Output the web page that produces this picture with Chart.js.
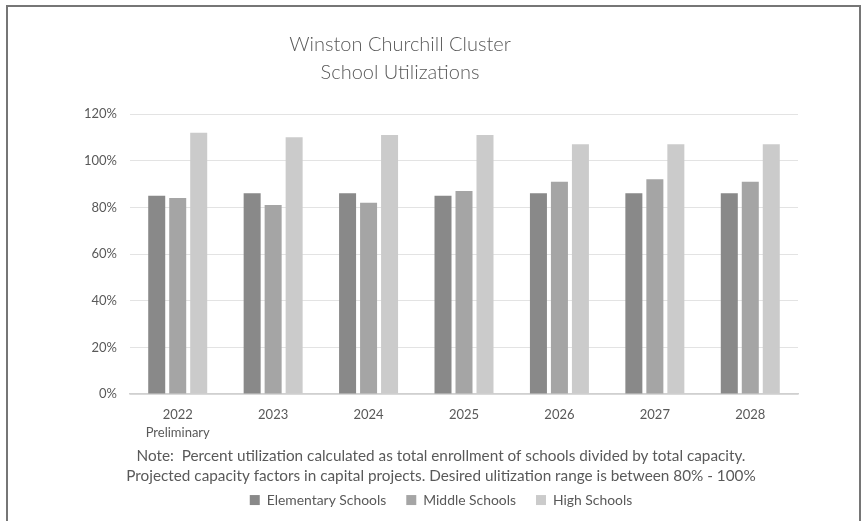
<!DOCTYPE html>
<html><head><meta charset="utf-8">
<script src="https://cdn.jsdelivr.net/npm/chart.js@4.4.0/dist/chart.umd.min.js"></script>
<style>
html,body{margin:0;padding:0;background:#fff;width:867px;height:521px;overflow:hidden;}
#frame{position:absolute;left:6px;top:5px;width:851px;height:600px;border:2px solid #767676;border-bottom:none;}
#wrap{position:absolute;left:0;top:0;width:867px;height:521px;}
</style></head><body>
<div id="frame"></div>
<div id="wrap"><canvas id="c" width="867" height="521"></canvas></div>
<script>
const categories = [['2022','Preliminary'],'2023','2024','2025','2026','2027','2028'];
const elementary = [85,86,86,85,86,86,86];
const middle = [84,81,82,87,91,92,91];
const high = [112,110,111,111,107,107,107];
const yTickLabels = ['0%','20%','40%','60%','80%','100%','120%'];
const seriesNames = ['Elementary Schools','Middle Schools','High Schools'];
const titleLines = ['Winston Churchill Cluster','School Utilizations'];
const noteLines = ['Note:  Percent utilization calculated as total enrollment of schools divided by total capacity.',
                   'Projected capacity factors in capital projects. Desired ulitization range is between 80% - 100%'];

const TXT = '#595959';
const FONT = 'Lato, "Open Sans", sans-serif';

const titlePlugin = {
  id: 'customTitle',
  afterDraw(chart) {
    const ctx = chart.ctx;
    ctx.save();
    ctx.fillStyle = TXT;
    ctx.font = '300 20px ' + FONT;
    ctx.textAlign = 'center';
    ctx.textBaseline = 'middle';
    titleLines.forEach((t, i) => ctx.fillText(t, 400, 45 + i * 28));
    ctx.restore();
  }
};

new Chart(document.getElementById('c'), {
  type: 'bar',
  data: {
    labels: categories,
    datasets: [
      {label: seriesNames[0], data: elementary, backgroundColor: '#898989'},
      {label: seriesNames[1], data: middle, backgroundColor: '#a5a5a5'},
      {label: seriesNames[2], data: high, backgroundColor: '#cbcbcb'}
    ]
  },
  options: {
    responsive: false,
    animation: false,
    layout: {padding: {left: 84, right: 69, top: 114, bottom: 4}},
    datasets: {bar: {categoryPercentage: 0.66, barPercentage: 0.81}},
    scales: {
      x: {
        grid: {display: false, drawTicks: false},
        border: {display: true, color: '#d0d0d0', width: 1.5},
        ticks: {color: TXT, font: {family: FONT, size: 13, lineHeight: 18/13}, padding: 12, maxRotation: 0, autoSkip: false},
        afterFit(s) { s.height = 47; }
      },
      y: {
        min: 0, max: 120,
        ticks: {stepSize: 20, color: TXT, font: {family: FONT, size: 13}, padding: 13,
                callback: (v, i) => yTickLabels[i]},
        grid: {color: '#e3e3e3', drawTicks: false},
        border: {display: false},
        afterFit(s) { s.width = 46; }
      }
    },
    plugins: {
      legend: {
        position: 'bottom',
        labels: {boxWidth: 10, boxHeight: 10, padding: 20, color: TXT, font: {family: FONT, size: 13.9}}
      },
      subtitle: {
        display: true, position: 'bottom', text: noteLines, weight: 500,
        padding: {top: 5, bottom: -13}, color: TXT,
        font: {family: FONT, size: 15.3, lineHeight: 20/15.3, weight: 'normal'}
      },
      title: {display: false},
      tooltip: {enabled: false}
    }
  },
  plugins: [titlePlugin]
});
</script>
</body></html>
